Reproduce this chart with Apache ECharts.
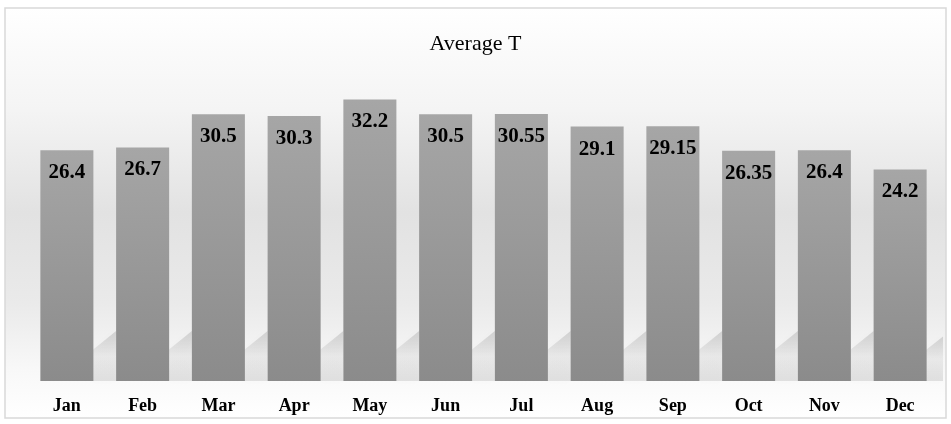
<!DOCTYPE html>
<html><head><meta charset="utf-8">
<script src="https://cdn.jsdelivr.net/npm/echarts@6/dist/echarts.min.js"></script>
<style>html,body{margin:0;padding:0;background:#fff}#c{width:951px;height:424px}</style>
</head><body><div id="c"></div>
<script>
var months = ['Jan','Feb','Mar','Apr','May','Jun','Jul','Aug','Sep','Oct','Nov','Dec'];
var avgT = [26.4, 26.7, 30.5, 30.3, 32.2, 30.5, 30.55, 29.1, 29.15, 26.35, 26.4, 24.2];
var chartTitle = 'Average T';

var chart = echarts.init(document.getElementById('c'));
chart.setOption({
  backgroundColor: '#ffffff',
  graphic: [{
    type: 'rect', z: -10,
    shape: {x: 5, y: 8, width: 941, height: 410},
    style: {
      fill: new echarts.graphic.LinearGradient(0, 0, 0, 1, [
        {offset: 0, color: '#ffffff'},
        {offset: 0.25, color: '#f4f4f4'},
        {offset: 0.5, color: '#e2e2e2'},
        {offset: 0.72, color: '#eaeaea'},
        {offset: 0.88, color: '#f8f8f8'},
        {offset: 1, color: '#ffffff'}
      ]),
      stroke: '#d9d9d9', lineWidth: 1.5
    }
  }],
  title: {
    text: chartTitle, left: 'center', top: 28,
    textStyle: {fontFamily: 'Liberation Serif', fontWeight: 'normal', fontSize: 22, color: '#000'}
  },
  grid: {left: 29, right: 13, top: 75, bottom: 43},
  xAxis: {
    type: 'category', data: months,
    axisLine: {show: false}, axisTick: {show: false},
    axisLabel: {fontFamily: 'Liberation Serif', fontWeight: 'bold', fontSize: 18, color: '#000', margin: 16}
  },
  yAxis: {type: 'value', min: 0, max: 35, show: false, splitLine: {show: false}},
  series: [{
    type: 'custom', z: 1, silent: true,
    data: avgT,
    renderItem: function (params, api) {
      var base = api.coord([api.value(0), 0]);
      var band = api.size([1, 0])[0];
      var bw = band * 0.7;
      var xr = base[0] + bw / 2;
      var gap = band - bw;
      var b = base[1];
      var xe = Math.min(xr + gap, 943);
      var ye = b - 30 - 20 * (xe - xr) / gap;
      return {
        type: 'polygon',
        shape: {points: [[xr - 2, b], [xr - 2, b - 30], [xe, ye], [xe, b]]},
        style: {
          fill: new echarts.graphic.LinearGradient(0, 0, 0, 1, [
            {offset: 0, color: 'rgba(0,0,0,0.13)'},
            {offset: 0.5, color: 'rgba(0,0,0,0.05)'},
            {offset: 1, color: 'rgba(0,0,0,0.10)'}
          ]),
          shadowBlur: 6, shadowColor: 'rgba(0,0,0,0.1)'
        }
      };
    }
  }, {
    type: 'bar', data: avgT, barWidth: '70%', z: 2,
    itemStyle: {
      color: new echarts.graphic.LinearGradient(0, 0, 0, 1, [
        {offset: 0, color: '#a6a6a6'},
        {offset: 1, color: '#8b8b8b'}
      ])
    },
    label: {
      show: true, position: 'insideTop', distance: 12,
      fontFamily: 'Liberation Serif', fontWeight: 'bold', fontSize: 21, color: '#000'
    }
  }]
});
</script></body></html>
